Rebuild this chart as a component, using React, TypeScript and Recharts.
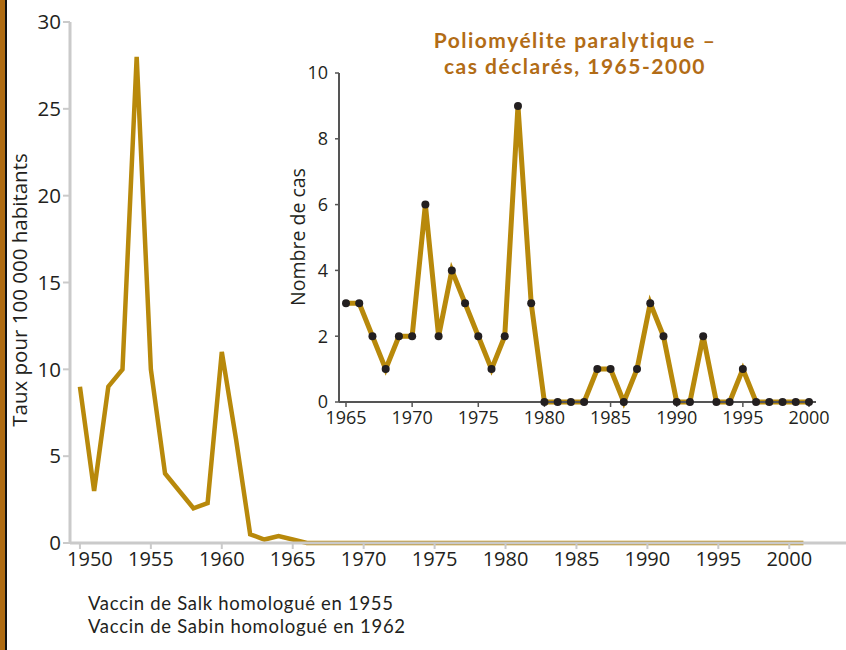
import React from 'react';
import { LineChart, Line, XAxis, YAxis } from 'recharts';

// main chart: taux pour 100 000 habitants
const mainYears = [
  1950, 1951, 1952, 1953, 1954, 1955, 1956, 1958, 1959, 1960, 1961, 1962, 1963, 1964, 1965,
  1966, 1967, 1968, 1969, 1970, 1971, 1972, 1973, 1974, 1975, 1976, 1977, 1978, 1979, 1980,
  1981, 1982, 1983, 1984, 1985, 1986, 1987, 1988, 1989, 1990, 1991, 1992, 1993, 1994, 1995,
  1996, 1997, 1998, 1999, 2000, 2001,
];
const mainRates = [
  9, 3, 9, 10, 28, 10, 4, 2, 2.3, 11, 6, 0.5, 0.2, 0.4, 0.2,
  0, 0, 0, 0, 0, 0, 0, 0, 0, 0, 0, 0, 0, 0, 0,
  0, 0, 0, 0, 0, 0, 0, 0, 0, 0, 0, 0, 0, 0, 0,
  0, 0, 0, 0, 0, 0,
];
const mainXTicks = [1950, 1955, 1960, 1965, 1970, 1975, 1980, 1985, 1990, 1995, 2000];
const mainYTicks = [0, 5, 10, 15, 20, 25, 30];

// inset: cas déclarés 1965-2000
const insetYears = [
  1965, 1966, 1967, 1968, 1969, 1970, 1971, 1972, 1973, 1974, 1975, 1976,
  1977, 1978, 1979, 1980, 1981, 1982, 1983, 1984, 1985, 1986, 1987, 1988,
  1989, 1990, 1991, 1992, 1993, 1994, 1995, 1996, 1997, 1998, 1999, 2000,
];
const insetCases = [
  3, 3, 2, 1, 2, 2, 6, 2, 4, 3, 2, 1,
  2, 9, 3, 0, 0, 0, 0, 1, 1, 0, 1, 3,
  2, 0, 0, 2, 0, 0, 1, 0, 0, 0, 0, 0,
];
const insetXTicks = [1965, 1970, 1975, 1980, 1985, 1990, 1995, 2000];
const insetYTicks = [0, 2, 4, 6, 8, 10];

const mainData = mainYears.map((year, i) => ({ year, rate: mainRates[i] }));
const insetData = insetYears.map((year, i) => ({ year, cases: insetCases[i] }));

const FONT = '"Open Sans", sans-serif';
const NOTE_FONT = 'Lato, sans-serif';
const LINE = '#B8890B';
const TEXT = '#231f20';
const TITLE = '#B26C16';

const MainXTick = (props: any) => {
  const { x, y, payload } = props;
  // the first label sits a bit to the right of its tick in the original
  const shift = payload.value === 1950 ? 10 : 0;
  return (
    <text x={x + shift} y={y} dy="0.71em" textAnchor="middle" fill={TEXT} fontSize={20} fontFamily={FONT}>
      {payload.value}
    </text>
  );
};

const App = () => {
  return (
    <div style={{ position: 'absolute', left: 0, top: 0, width: 846, height: 650, background: '#fff', fontFamily: FONT }}>
      <div style={{ position: 'absolute', left: 0, top: 0, width: 5, height: 650, background: '#AE6B12' }} />
      <div style={{ position: 'absolute', left: 5, top: 0, width: 2, height: 650, background: '#111' }} />

      <div style={{ position: 'absolute', left: 0, top: 0 }}>
        <LineChart width={846} height={650} data={mainData} margin={{ top: 22, right: 0, bottom: 77, left: 0 }}>
          <XAxis
            dataKey="year"
            type="number"
            domain={[1949.3, 2004]}
            ticks={mainXTicks}
            height={30}
            tick={<MainXTick />}
            tickSize={6}
            tickMargin={3}
            axisLine={{ stroke: '#cacaca', strokeWidth: 3 }}
            tickLine={{ stroke: '#cacaca', strokeWidth: 2 }}
          />
          <XAxis
            xAxisId="top"
            orientation="top"
            type="number"
            domain={[0, 1]}
            ticks={[]}
            height={0}
            tick={false}
            axisLine={{ stroke: '#a8a8a8', strokeWidth: 2 }}
          />
          <YAxis
            type="number"
            domain={[0, 30]}
            ticks={mainYTicks}
            width={70}
            tickSize={7}
            tickMargin={2}
            tick={{ fill: TEXT, fontSize: 20.5, fontFamily: FONT }}
            axisLine={{ stroke: '#cacaca', strokeWidth: 3 }}
            tickLine={{ stroke: '#cacaca', strokeWidth: 2 }}
            label={() => (
              <text
                x={19}
                y={290}
                transform="rotate(-90 19 290)"
                textAnchor="middle"
                dominantBaseline="central"
                fill={TEXT}
                fontSize={20.5}
                fontFamily={FONT}
              >
                Taux pour 100 000 habitants
              </text>
            )}
          />
          <Line
            type="linear"
            dataKey="rate"
            stroke={LINE}
            strokeWidth={4.5}
            strokeLinejoin="miter"
            dot={false}
            activeDot={false}
            isAnimationActive={false}
          />
        </LineChart>
      </div>

      <div style={{ position: 'absolute', left: 270, top: 20, width: 570, height: 420, background: '#fff' }}>
        <LineChart width={570} height={420} data={insetData} margin={{ top: 53, right: 24, bottom: 8, left: 0 }}>
          <XAxis
            dataKey="year"
            type="number"
            domain={[1965, 2000]}
            ticks={insetXTicks}
            padding={{ left: 7, right: 7 }}
            height={30}
            tickSize={5}
            tickMargin={4}
            tick={{ fill: TEXT, fontSize: 18, fontFamily: FONT }}
            axisLine={{ stroke: '#555', strokeWidth: 2 }}
            tickLine={{ stroke: '#555', strokeWidth: 1.5 }}
          />
          <XAxis
            xAxisId="top"
            orientation="top"
            type="number"
            domain={[0, 1]}
            ticks={[]}
            height={0}
            tick={false}
            axisLine={{ stroke: '#8a8a8a', strokeWidth: 2 }}
          />
          <YAxis
            type="number"
            domain={[0, 10]}
            ticks={insetYTicks}
            width={69}
            tickSize={4}
            tickMargin={7}
            tick={{ fill: TEXT, fontSize: 18, fontFamily: FONT }}
            axisLine={{ stroke: '#555', strokeWidth: 2 }}
            tickLine={{ stroke: '#555', strokeWidth: 1.5 }}
            label={() => (
              <text
                x={27}
                y={217}
                transform="rotate(-90 27 217)"
                textAnchor="middle"
                dominantBaseline="central"
                fill={TEXT}
                fontSize={19.5}
                fontFamily={FONT}
              >
                Nombre de cas
              </text>
            )}
          />
          <YAxis
            yAxisId="right"
            orientation="right"
            type="number"
            domain={[0, 1]}
            ticks={[]}
            width={0}
            tick={false}
            axisLine={{ stroke: '#a5a5a5', strokeWidth: 3 }}
          />
          <Line
            type="linear"
            dataKey="cases"
            stroke={LINE}
            strokeWidth={5}
            strokeLinejoin="miter"
            dot={{ r: 4, fill: TEXT, stroke: 'none' }}
            activeDot={false}
            isAnimationActive={false}
          />
        </LineChart>
        <div
          style={{
            position: 'absolute',
            left: 115,
            top: 7,
            width: 380,
            textAlign: 'center',
            color: TITLE,
            fontFamily: NOTE_FONT,
            fontWeight: 700,
            fontSize: 21,
            lineHeight: '25.5px',
            letterSpacing: 1.5,
          }}
        >
          Poliomyélite paralytique –
          <br />
          cas déclarés, 1965-2000
        </div>
      </div>

      <div
        style={{
          position: 'absolute',
          left: 88,
          top: 592,
          color: TEXT,
          fontFamily: NOTE_FONT,
          fontSize: 18.5,
          lineHeight: '23px',
          letterSpacing: 0.7,
        }}
      >
        Vaccin de Salk homologué en 1955
        <br />
        Vaccin de Sabin homologué en 1962
      </div>
    </div>
  );
};

export default App;
